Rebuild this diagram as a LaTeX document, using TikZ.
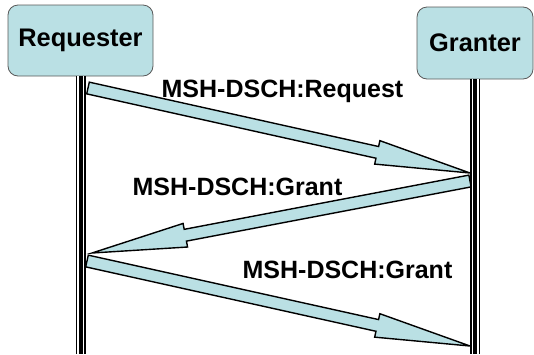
\documentclass[tikz,border=0pt]{standalone}
\usepackage{fontspec}
\setmainfont{Liberation Sans}
\usetikzlibrary{calc}
\definecolor{boxcyan}{RGB}{186,224,228}
% block arrow from #1 to #2
\newcommand{\msgarrow}[2]{%
	\coordinate (hb) at ($(#2)!95pt!(#1)$);
	\draw[msg] ($(#1)!6pt!90:(#2)$) -- ($(hb)!6pt!-90:(#1)$) -- ($(hb)!12pt!-90:(#1)$) -- (#2)
		-- ($(hb)!12pt!90:(#1)$) -- ($(hb)!6pt!90:(#1)$) -- ($(#1)!6pt!-90:(#2)$) -- cycle;}

\begin{document}
\begin{tikzpicture}[x=1pt,y=-1pt,
	party/.style={draw=black!65, line width=0.8pt, fill=boxcyan, rounded corners=10pt, inner sep=0pt, font=\fontsize{25.4}{30}\selectfont\bfseries},
	lifeline/.style={line width=1.5pt, double=white, double distance=7pt},
	msg/.style={fill=boxcyan, draw=black, line width=1.4pt, line join=miter},
	msglabel/.style={anchor=base, inner sep=0pt, font=\fontsize{25}{30}\selectfont\bfseries}]
	\useasboundingbox (0,0) rectangle (534,354);
	\coordinate (bottom) at (0,354);

	\node[party, minimum width=145pt, minimum height=71pt] (req) at (80.5,40.5) {Requester};
	\node[party, minimum width=116pt, minimum height=72pt] (gra) at (475,43) {Granter};

	% messages
	\coordinate (m1s) at (88,88);
	\coordinate (m1e) at (470,173);
	\coordinate (m2s) at (470,181);
	\coordinate (m2e) at (92,253);
	\coordinate (m3s) at (87,261);
	\coordinate (m3e) at (470,346);
	\msgarrow{m1s}{m1e}
	\msgarrow{m2s}{m2e}
	\msgarrow{m3s}{m3e}

	\foreach \n in {req,gra} {
		\draw[lifeline] (\n.south) -- (\n.south |- bottom);
		\draw[line width=4pt] (\n.south) -- (\n.south |- bottom);
	}

	\node[msglabel] (l1) at (282.5,97) {MSH-DSCH:Request};
	\node[msglabel] (l2) at (237.5,195) {MSH-DSCH:Grant};
	\node[msglabel] (l3) at (347.5,278) {MSH-DSCH:Grant};
\end{tikzpicture}
\end{document}
